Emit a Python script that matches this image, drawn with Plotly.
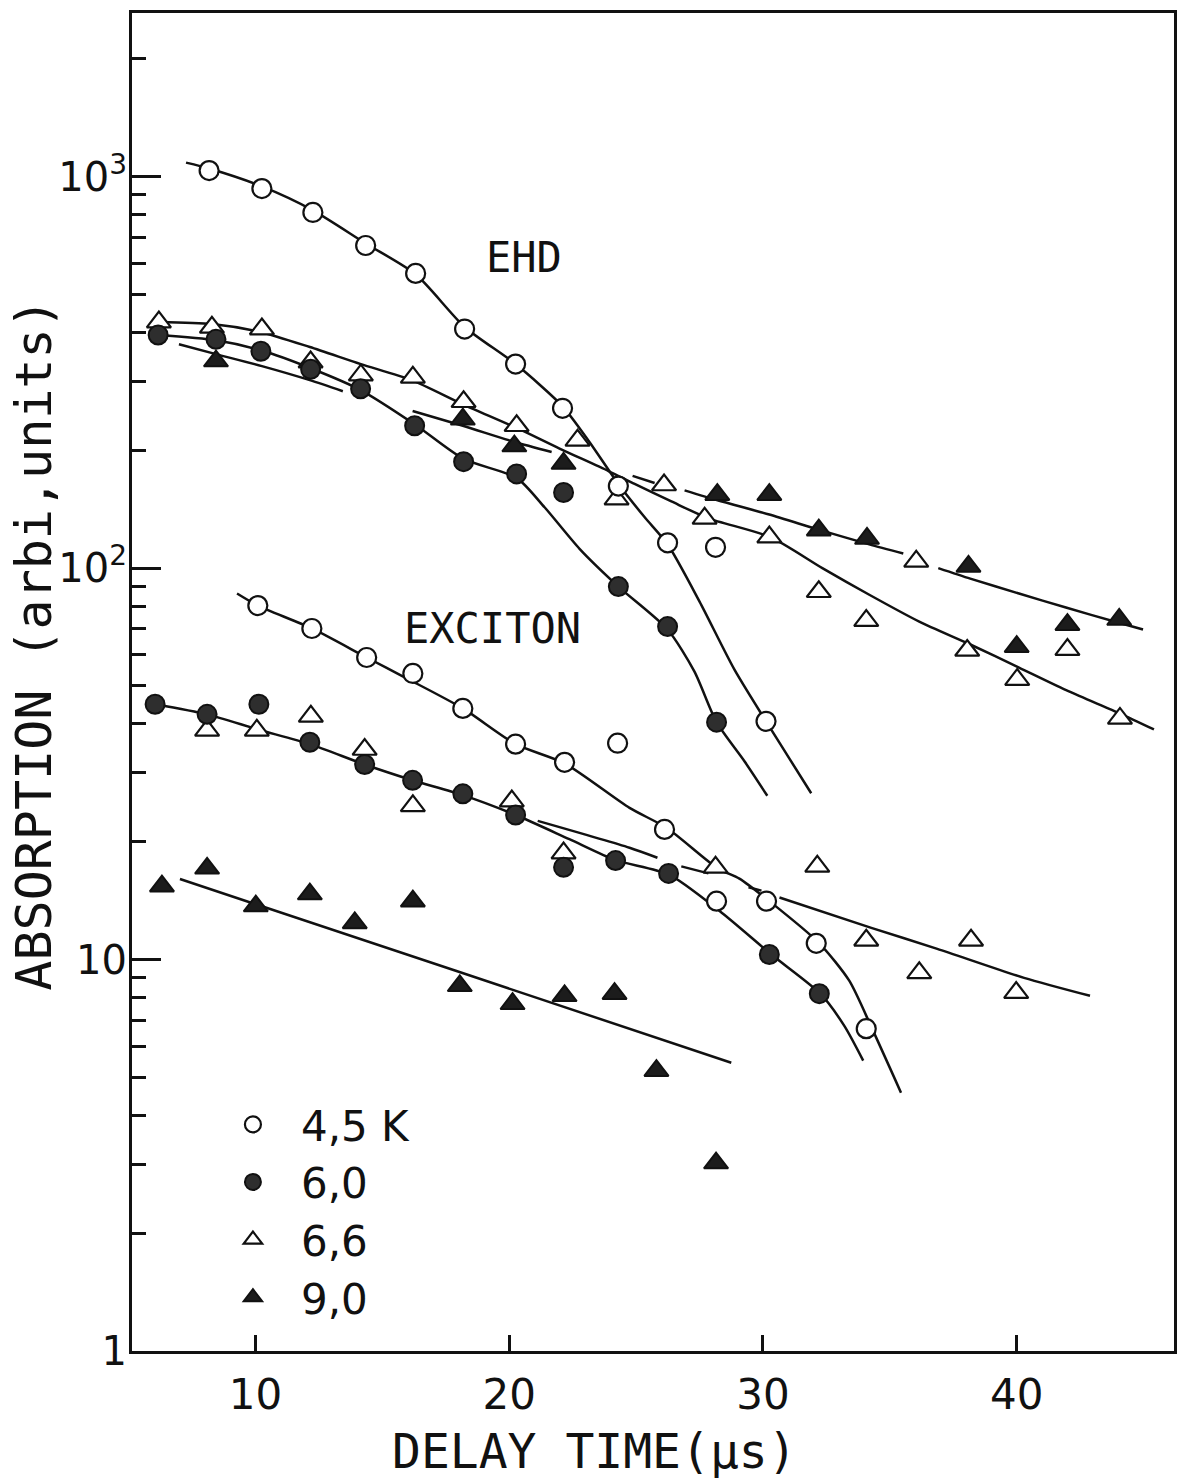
import plotly.graph_objects as go

# ---- measured points: delay time (us) and absorption (arb. units) ----
# electron-hole drops (EHD)
ehd_45_t = [8.17, 10.25, 12.26, 14.34, 16.31, 18.24, 20.25, 22.1, 24.3, 26.24, 28.13, 30.12]
ehd_45_a = [1036, 932, 810, 667, 566, 408, 332, 256, 162, 116, 113, 40.6]

ehd_60_t = [6.16, 8.44, 10.21, 12.17, 14.14, 16.27, 18.2, 20.29, 22.14, 24.3, 26.24, 28.17]
ehd_60_a = [394, 384, 358, 322, 287, 231, 187, 174, 156, 89.7, 70.9, 40.4]

ehd_66_t = [6.19, 8.28, 10.25, 12.17, 14.15, 16.2, 18.2, 20.29, 22.69, 24.23, 26.1, 27.7,
            30.25, 32.2, 34.07, 36.04, 38.05, 40.02, 42.0, 44.07]
ehd_66_a = [425, 412, 408, 336, 311, 307, 266, 231, 212, 150, 163, 134,
            120, 87, 73.4, 104, 61.6, 51.9, 61.9, 41.3]

ehd_90_t = [8.44, 18.17, 20.2, 22.14, 28.2, 30.25, 32.2, 34.1, 38.1, 40.0, 42.0, 44.04]
ehd_90_a = [338, 240, 205, 185, 154, 154, 125, 119, 101, 63, 71.7, 73.9]

# free excitons
exc_45_t = [10.09, 12.22, 14.38, 16.2, 18.17, 20.25, 22.18, 24.27, 26.12, 28.17, 30.14, 32.1, 34.07]
exc_45_a = [80.2, 70.1, 59.1, 53.8, 43.8, 35.5, 31.9, 35.7, 21.5, 14.1, 14.1, 11.0, 6.66]

exc_60_t = [6.04, 8.09, 10.13, 12.14, 14.3, 16.19, 18.17, 20.25, 22.14, 24.19, 26.28, 30.25, 32.22]
exc_60_a = [44.9, 42.3, 44.9, 35.9, 31.5, 28.7, 26.5, 23.4, 17.2, 17.9, 16.6, 10.3, 8.18]

exc_66_t = [8.09, 10.05, 12.18, 14.3, 16.2, 20.1, 22.14, 28.13, 32.14, 34.07, 36.16, 38.2, 39.98]
exc_66_a = [38.5, 38.5, 41.8, 34.4, 24.7, 25.4, 18.7, 17.2, 17.3, 11.2, 9.25, 11.2, 8.23]

exc_90_t = [6.31, 8.09, 10.01, 12.14, 13.91, 16.2, 18.05, 20.13, 22.18, 24.15, 25.8, 28.15]
exc_90_a = [15.4, 17.1, 13.7, 14.7, 12.4, 14.1, 8.57, 7.71, 8.08, 8.18, 5.2, 3.02]

# ---- hand-drawn guide curves (None = pen lifted) ----
fit_ehd_45_t = [7.26, 8.17, 10.25, 12.26, 14.34, 16.31, 18.24, 20.25, 22.1, 23.16, 24.3, 25.33,
                26.24, 27.5, 28.87, 30.12, 31.03, 31.9]
fit_ehd_45_a = [1086, 1049, 944, 820, 675, 563, 413, 332, 259, 210, 164, 135,
                115, 82.1, 55.1, 40.6, 32.7, 26.6]

fit_ehd_60_t = [6.16, 8.44, 10.21, 12.17, 14.14, 16.27, 18.2, 20.29, 21.39, 22.77, 24.3, 26.24,
                27.3, 28.17, 29.27, 30.17]
fit_ehd_60_a = [394, 382, 360, 324, 285, 233, 190, 170, 143, 112, 89.7, 69.7,
                54.4, 40.4, 32.1, 26.2]

fit_ehd_66_t = [6.19, 8.28, 10.25, 12.14, 14.15, 16.15, 18.17, 20.29, 21.98, 23.91, 24.94, 26.39,
                27.85, 30.29, 32.34, 34.19, 36.16, 38.17, 40.09, 42.06, 44.07, 45.41]
fit_ehd_66_a = [425, 420, 400, 367, 332, 302, 262, 228, 202, 177, 164, 148,
                134, 120, 100, 85.5, 73, 63.8, 55.7, 48.4, 42.5, 38.7]

fit_ehd_90_t = [6.98, 8.44, 10.25, 12.14, 13.44, None, 16.19, 18.17, 20.21, 21.67, None,
                24.86, 25.73, None, 26.91, 28.21, 30.25, 32.26, 34.19, 35.53, None,
                36.91, 38.17, 40.09, 41.94, 43.99, 44.98]
fit_ehd_90_a = [373, 352, 328, 302, 283, None, 252, 231, 210, 198, None,
                172, 165, None, 158, 149, 137, 125, 115, 109, None,
                100, 94, 86.1, 79.3, 72.6, 69.7]

fit_exc_45_t = [9.27, 10.09, 12.22, 14.38, 15.95, 18.17, 20.25, 22.18, 24.74, 26.2, 28.21, 29.07,
                30.25, 32.22, 33.4, 34.3, 35.44]
fit_exc_45_a = [86.1, 80.2, 70.1, 59.1, 52.3, 43.8, 35.5, 31.7, 24.4, 21.7, 17.1, 16.1,
                14.1, 11.0, 8.83, 6.66, 4.57]

fit_exc_60_t = [6.04, 8.09, 10.09, 12.14, 14.3, 16.19, 18.17, 20.25, 22.37, 24.19, 26.28, 28.29,
                30.33, 32.26, 33.2, 33.95]
fit_exc_60_a = [44.9, 42.3, 38.7, 35.5, 31.5, 28.7, 26.3, 23.4, 20.3, 17.95, 16.5, 13.3,
                10.3, 8.18, 6.78, 5.52]

fit_exc_66_t = [21.12, 24.74, 25.84, None, 26.78, 27.85, None, 29.43, 29.94, None,
                30.65, 34.27, 36.87, 40.29, 42.89]
fit_exc_66_a = [22.6, 19.3, 18.2, None, 17.3, 16.6, None, 15.3, 15.0, None,
                14.4, 12.05, 10.65, 8.98, 8.08]

fit_exc_90_t = [7.02, 17.89, 28.75]
fit_exc_90_a = [16.06, 9.36, 5.45]

y_tick_vals = [1, 10, 100, 1000]
y_tick_text = ["1", "10", "10<sup>2</sup>", "10<sup>3</sup>"]
y_minor_vals = [2, 3, 4, 5, 6, 7, 8, 9, 20, 30, 40, 50, 60, 70, 80, 90,
                200, 300, 400, 500, 600, 700, 800, 900, 2000]
x_tick_vals = [10, 20, 30, 40]

INK = "#111111"
TXT = "DejaVu Sans Mono"
NUM = "DejaVu Sans"

# page geometry (pixels)
L, R, T, B = 132, 12, 10, 128
W, H = 1187, 1479
pw, ph = W - L - R, H - T - B


def px_to_paper(px, py):
    return (px - L) / pw, (H - B - py) / ph


fig = go.Figure()

# guide curves underneath the symbols
for t, a in [(fit_ehd_45_t, fit_ehd_45_a), (fit_ehd_60_t, fit_ehd_60_a),
             (fit_ehd_66_t, fit_ehd_66_a), (fit_ehd_90_t, fit_ehd_90_a),
             (fit_exc_45_t, fit_exc_45_a), (fit_exc_60_t, fit_exc_60_a),
             (fit_exc_66_t, fit_exc_66_a), (fit_exc_90_t, fit_exc_90_a)]:
    fig.add_trace(go.Scatter(x=t, y=a, mode="lines",
                             line=dict(color=INK, width=2.5, shape="spline", smoothing=0.7),
                             connectgaps=False, showlegend=False, hoverinfo="skip"))

styles = {
    "6,6": dict(symbol="triangle-up", size=21, color="white", line=dict(color=INK, width=2.2)),
    "9,0": dict(symbol="triangle-up", size=21, color="#1c1c1c", line=dict(color=INK, width=2)),
    "6,0": dict(symbol="circle", size=19, color="#2e2e2e", line=dict(color=INK, width=2)),
    "4,5 K": dict(symbol="circle", size=19, color="white", line=dict(color=INK, width=2.2)),
}
rank = {"4,5 K": 1, "6,0": 2, "6,6": 3, "9,0": 4}
series = [
    ("6,6", ehd_66_t, ehd_66_a, exc_66_t, exc_66_a),
    ("9,0", ehd_90_t, ehd_90_a, exc_90_t, exc_90_a),
    ("6,0", ehd_60_t, ehd_60_a, exc_60_t, exc_60_a),
    ("4,5 K", ehd_45_t, ehd_45_a, exc_45_t, exc_45_a),
]
for name, t1, a1, t2, a2 in series:
    fig.add_trace(go.Scatter(x=t1, y=a1, mode="markers", marker=styles[name], name=name,
                             legendgroup=name, legendrank=rank[name], showlegend=True))
    fig.add_trace(go.Scatter(x=t2, y=a2, mode="markers", marker=styles[name], name=name,
                             legendgroup=name, showlegend=False))

# region labels (log axis: y given as log10 of the value)
fig.add_annotation(x=20.6, y=2.794, xref="x", yref="y", text="EHD", showarrow=False,
                   xanchor="center", yanchor="middle",
                   font=dict(family=TXT, size=42, color=INK))
fig.add_annotation(x=19.34, y=1.845, xref="x", yref="y", text="EXCITON", showarrow=False,
                   xanchor="center", yanchor="middle",
                   font=dict(family=TXT, size=42, color=INK))

# axis titles
tx, ty = px_to_paper(595, 1451)
fig.add_annotation(x=tx, y=ty, xref="paper", yref="paper", text="DELAY TIME(μs)",
                   showarrow=False, xanchor="center", yanchor="middle",
                   font=dict(family=TXT, size=48, color=INK))
tx, ty = px_to_paper(33, 643)
fig.add_annotation(x=tx, y=ty, xref="paper", yref="paper", text="ABSORPTION (arbi,units)",
                   showarrow=False, textangle=-90, xanchor="center", yanchor="middle",
                   font=dict(family=TXT, size=50, color=INK))

lx, ly = px_to_paper(205, 1090)
fig.update_layout(
    width=W, height=H,
    margin=dict(l=L, r=R, t=T, b=B),
    paper_bgcolor="white", plot_bgcolor="white",
    showlegend=True,
    legend=dict(x=lx, y=ly, xanchor="left", yanchor="top", bgcolor="rgba(0,0,0,0)",
                font=dict(family=NUM, size=42, color=INK), itemwidth=86,
                traceorder="normal", tracegroupgap=0),
    xaxis=dict(range=[5.13, 46.2], showgrid=False, zeroline=False,
               showline=True, linecolor=INK, linewidth=3, mirror=True,
               ticks="inside", ticklen=16, tickwidth=2.5, tickcolor=INK,
               tickvals=x_tick_vals, ticklabelstandoff=5,
               tickfont=dict(family=NUM, size=42, color=INK)),
    yaxis=dict(type="log", range=[0, 3.418], showgrid=False, zeroline=False,
               showline=True, linecolor=INK, linewidth=3, mirror=True,
               ticks="inside", ticklen=29, tickwidth=2.5, tickcolor=INK,
               tickvals=y_tick_vals, ticktext=y_tick_text, ticklabelstandoff=-6,
               tickfont=dict(family=NUM, size=40, color=INK),
               minor=dict(tickvals=y_minor_vals, ticks="inside", ticklen=14,
                          tickwidth=2.5, tickcolor=INK, showgrid=False)),
)

fig.write_html("out.html")
